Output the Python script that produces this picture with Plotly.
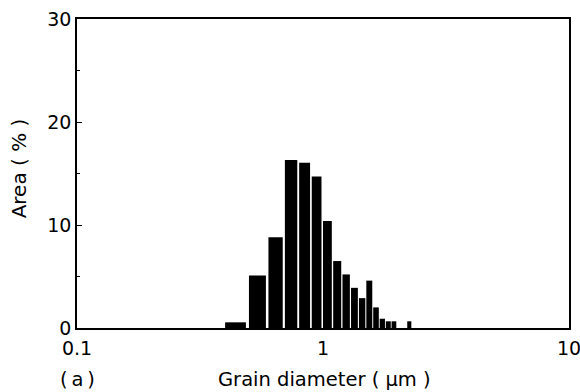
import plotly.graph_objects as go

# Bin left edges (µm), bins are 0.1 µm wide
bin_left = [0.4, 0.5, 0.6, 0.7, 0.8, 0.9, 1.0, 1.1, 1.2, 1.3,
            1.4, 1.5, 1.6, 1.7, 1.8, 1.9, 2.0, 2.1, 2.2]
area_pct = [0.55, 5.1, 8.8, 16.3, 16.05, 14.7, 10.4, 6.5, 5.2, 3.9,
            2.9, 4.6, 2.0, 0.9, 0.65, 0.65, 0.0, 0.0, 0.65]
x_tickvals = [0.1, 1, 10]
x_ticktext = ["0.1", "1", "10"]
y_tickvals = [0, 10, 20, 30]

FONT = "DejaVu Sans, Liberation Sans, Arial, sans-serif"

fig = go.Figure()
fig.add_trace(go.Bar(
    x=bin_left, y=area_pct,
    width=[0.086] * len(bin_left), offset=0,
    marker=dict(color="black", line=dict(width=0)),
    showlegend=False,
))

fig.update_layout(
    width=580, height=392,
    margin=dict(l=77, r=11, t=19, b=64),
    paper_bgcolor="white", plot_bgcolor="white",
    font=dict(family=FONT, color="black", size=18),
    xaxis=dict(
        type="log", range=[-1, 1], automargin=False,
        tickvals=x_tickvals, ticktext=x_ticktext, ticklabeloverflow="allow",
        ticks="", showgrid=False, zeroline=False, ticklabelstandoff=2,
        showline=True, linecolor="black", linewidth=1.5, mirror=True,
        tickfont=dict(size=19),
    ),
    yaxis=dict(
        range=[0, 30], tickvals=y_tickvals, automargin=False,
        ticks="inside", ticklen=5, tickwidth=1, tickcolor="black",
        minor=dict(dtick=5, ticks="inside", ticklen=3, tickcolor="black", tickwidth=1),
        showgrid=False, zeroline=False,
        showline=True, linecolor="black", linewidth=1.5, mirror=True,
        tickfont=dict(size=19),
    ),
    annotations=[
        dict(text="Area ( % )", xref="paper", yref="paper", x=-0.117, y=0.518,
             textangle=-90, showarrow=False, font=dict(size=20),
             xanchor="center", yanchor="middle"),
        dict(text="Grain diameter ( μm )", xref="paper", yref="paper", x=0.504, y=-0.168,
             showarrow=False, font=dict(size=19.5), xanchor="center", yanchor="middle"),
        dict(text="(\u2009a\u2009)", xref="paper", yref="paper", x=0.0, y=-0.168,
             showarrow=False, font=dict(size=19.5), xanchor="center", yanchor="middle"),
    ],
)

fig.write_html("out.html")
